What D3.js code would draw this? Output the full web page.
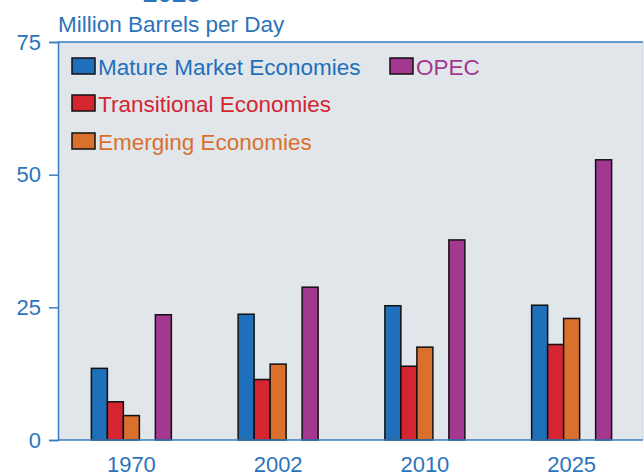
<!DOCTYPE html>
<html>
<head>
<meta charset="utf-8">
<script src="https://cdn.jsdelivr.net/npm/d3@7"></script>
<style>
  body { margin: 0; background: #fff; }
  text { font-family: "Liberation Sans", Arial, sans-serif; }
</style>
</head>
<body>
<script>
var width = 644;
var height = 475;

// data
var years = ["1970", "2002", "2010", "2025"];
var series = ["Mature Market Economies", "Transitional Economies", "Emerging Economies", "OPEC"];
var mature = [13.5, 23.7, 25.3, 25.4];
var transitional = [7.2, 11.4, 13.9, 18.0];
var emerging = [4.6, 14.3, 17.5, 22.9];
var opec = [23.6, 28.8, 37.7, 52.8];
var yTicks = [0, 25, 50, 75];

var colors = ["#1f6fba", "#d42531", "#d9702e", "#a43790"];
var textBlue = "#2b74bb";

var values = [mature, transitional, emerging, opec];
// slot in the group for each series, slot 3 stays empty
var slots = [0, 1, 2, 4];

var plotL = 58, plotT = 42, plotR = 643, plotB = 440;

var svg = d3.select("body").append("svg").attr("width", width).attr("height", height);

// title, mostly cut off at the top
svg.append("text").attr("x", 172).attr("y", 2).attr("text-anchor", "middle")
  .attr("font-size", 26).attr("font-weight", "bold").attr("fill", textBlue).text("2025");

svg.append("rect").attr("x", plotL).attr("y", plotT).attr("width", plotR - plotL).attr("height", plotB - plotT)
  .attr("fill", "#e1e6eb");
svg.append("line").attr("x1", plotR).attr("x2", plotR).attr("y1", plotT).attr("y2", plotB)
  .attr("stroke", "#c9d3de").attr("stroke-width", 1);

var x = d3.scaleBand().domain(years).range([plotL, 645]).paddingInner(0.455).paddingOuter(0.2275);
var xs = d3.scaleBand().domain(d3.range(5)).range([0, x.bandwidth()]);
var y = d3.scaleLinear().domain([0, 75]).range([plotB, plotT]);

// bars
series.forEach(function(s, i) {
  svg.append("g").selectAll("rect").data(values[i]).enter().append("rect")
    .attr("x", function(d, j) { return x(years[j]) + xs(slots[i]); })
    .attr("y", function(d) { return y(d); })
    .attr("width", xs.bandwidth())
    .attr("height", function(d) { return plotB - y(d); })
    .attr("fill", colors[i])
    .attr("stroke", "#111").attr("stroke-width", 1.5);
});

// y axis
var yAxis = svg.append("g").attr("transform", "translate(" + plotL + ",0)")
  .call(d3.axisLeft(y).tickValues(yTicks).tickSize(9).tickPadding(8));
yAxis.select(".domain").attr("stroke", "#3a7cc0").attr("stroke-width", 1.5);
yAxis.selectAll(".tick line").attr("stroke", "#3a7cc0").attr("stroke-width", 1.5);
yAxis.selectAll(".tick text").attr("fill", textBlue).attr("font-size", 22)
  .attr("font-family", "Liberation Sans, Arial, sans-serif");

// top border
svg.append("line").attr("x1", plotL).attr("x2", plotR).attr("y1", plotT).attr("y2", plotT)
  .attr("stroke", "#3a7cc0").attr("stroke-width", 1.5);

var xAxis = svg.append("g").attr("transform", "translate(0," + plotB + ")")
  .call(d3.axisBottom(x).tickSize(0).tickPadding(16));
xAxis.select(".domain").attr("stroke", "#3a7cc0").attr("stroke-width", 1.5)
  .attr("d", "M" + plotL + ",0H" + plotR);
xAxis.selectAll(".tick text").attr("fill", textBlue).attr("font-size", 22)
  .attr("font-family", "Liberation Sans, Arial, sans-serif");

svg.append("text").attr("x", 58).attr("y", 32).attr("font-size", 22.5).attr("fill", textBlue)
  .text("Million Barrels per Day");

// legend
var legendPos = [[72, 67], [72, 104], [72, 142], [390, 67]];
series.forEach(function(s, i) {
  var g = svg.append("g").attr("transform", "translate(" + legendPos[i][0] + "," + legendPos[i][1] + ")");
  g.append("rect").attr("x", 0).attr("y", -9).attr("width", 23).attr("height", 16)
    .attr("fill", colors[i]).attr("stroke", "#111").attr("stroke-width", 1.5);
  g.append("text").attr("x", 26).attr("y", 8).attr("font-size", 22.5).attr("fill", colors[i]).text(s);
});
</script>
</body>
</html>
